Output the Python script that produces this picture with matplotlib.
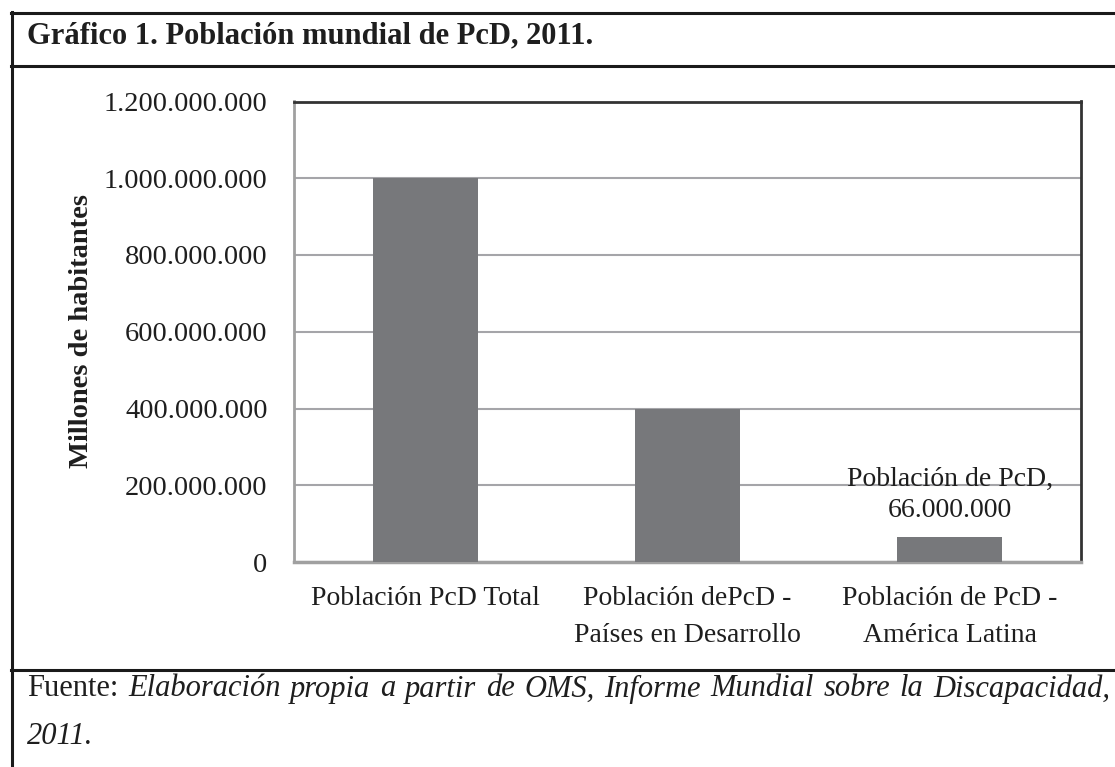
import matplotlib
matplotlib.use('Agg')
import matplotlib.pyplot as plt
from matplotlib.lines import Line2D
from matplotlib.ticker import FuncFormatter

# Data
categorias = ['Población PcD Total',
              'Población dePcD -\nPaíses en Desarrollo',
              'Población de PcD -\nAmérica Latina']
valores = [1000000000, 400000000, 66000000]
etiqueta_al = 'Población de PcD,\n66.000.000'
ticks_y = [0, 200000000, 400000000, 600000000, 800000000, 1000000000, 1200000000]

titulo = 'Gráfico 1. Población mundial de PcD, 2011.'
fuente_1 = 'Fuente:'
fuente_2 = 'Elaboración propia a partir de OMS, Informe Mundial sobre la Discapacidad,'
fuente_3 = '2011.'

plt.rcParams['font.family'] = ['Liberation Serif', 'DejaVu Serif']
txt = '#1e1e1e'
W, H = 1115, 767

fig = plt.figure(figsize=(W / 100, H / 100), dpi=100)
ax = fig.add_axes([294 / W, 1 - 562 / H, 787 / W, 460.5 / H])

x = range(len(categorias))
ax.bar(x, valores, width=0.4, color='#77787b', zorder=3)
ax.set_xlim(-0.5, 2.5)
ax.set_ylim(0, 1200000000)
ax.set_yticks(ticks_y)
ax.yaxis.set_major_formatter(FuncFormatter(lambda v, p: f'{int(v):,}'.replace(',', '.')))
ax.set_xticks(list(x))
ax.set_xticklabels(categorias, linespacing=1.65)
ax.tick_params(axis='y', length=0, pad=19, labelsize=20.5, labelcolor=txt)
ax.tick_params(axis='x', length=0, pad=17, labelsize=20, labelcolor=txt)
ax.yaxis.grid(True, color='#a5a5a9', linewidth=1.5, zorder=0)
ax.set_axisbelow(True)

ax.spines['left'].set_color('#a0a0a0')
ax.spines['left'].set_linewidth(2)
ax.spines['bottom'].set_color('#a0a0a0')
ax.spines['bottom'].set_linewidth(2.5)
ax.spines['top'].set_color('#333333')
ax.spines['top'].set_linewidth(2)
ax.spines['right'].set_color('#333333')
ax.spines['right'].set_linewidth(2)

fig.text(82 / W, 1 - 331 / H, 'Millones de habitantes', fontsize=20.5, fontweight='bold',
         color=txt, rotation=90, ha='center', va='center')

ax.annotate(etiqueta_al, xy=(2, valores[2]), xytext=(0, 10), textcoords='offset points',
            ha='center', va='bottom', fontsize=20, color=txt, linespacing=1.3)

# Frame of the figure box
def hline(y, x0=11, x1=1200, lw=2.2):
    fig.add_artist(Line2D([x0 / W, x1 / W], [1 - y / H, 1 - y / H], color='#1a1a1a', lw=lw))

hline(12.7)
hline(66)
hline(670)
fig.add_artist(Line2D([12 / W, 12 / W], [1 - 12 / H, -0.1], color='#1a1a1a', lw=2.2))

fig.text(27 / W, 1 - 36 / H, titulo, fontsize=22, fontweight='bold', color=txt, va='center')

# Justified footer line
renderer = fig.canvas.get_renderer()
palabras = [(fuente_1, 'normal')] + [(w, 'italic') for w in fuente_2.split()]
objs = []
for w, st in palabras:
    t = fig.text(0, 1 - 689 / H, w, fontsize=22, style=st, color=txt, va='center')
    objs.append(t)
anchos = [t.get_window_extent(renderer).width for t in objs]
x0, x1 = 27, 1110
gap = (x1 - x0 - sum(anchos)) / (len(objs) - 1)
pos = x0
for t, a in zip(objs, anchos):
    t.set_x(pos / W)
    pos += a + gap

fig.text(27 / W, 1 - 737 / H, fuente_3, fontsize=22, style='italic', color=txt, va='center')

fig.savefig('out.png', dpi=100)
